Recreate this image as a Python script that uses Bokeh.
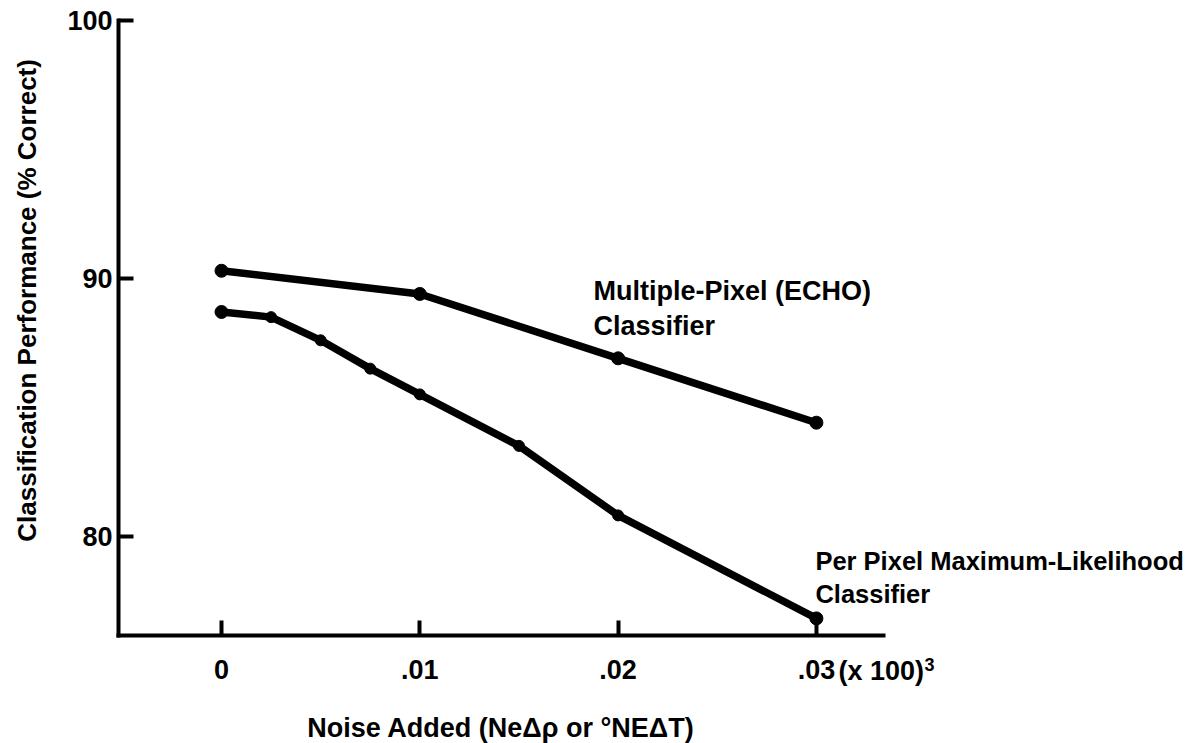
import numpy as np
from bokeh.plotting import figure
from bokeh.models import Label, FixedTicker, Range1d
from bokeh.embed import file_html
from bokeh.resources import INLINE

# ---- data ----
noise_echo = [0.0, 0.01, 0.02, 0.03]
perf_echo = [90.3, 89.4, 86.9, 84.4]

noise_pp = [0.0, 0.0025, 0.005, 0.0075, 0.01, 0.015, 0.02, 0.03]
perf_pp = [88.7, 88.5, 87.6, 86.5, 85.5, 83.5, 80.8, 76.8]

x_ticks = [0.0, 0.01, 0.02, 0.03]
x_tick_labels = ["0", ".01", ".02", ".03"]
y_ticks = [80, 90, 100]
y_tick_labels = ["80", "90", "100"]

x_title = "Noise Added (NeΔρ or °NEΔT)"
y_title = "Classification Performance (% Correct)"
echo_label = ["Multiple-Pixel (ECHO)", "Classifier"]
pp_label = ["Per Pixel Maximum-Likelihood", "Classifier"]

# axis extents (data units)
X_MIN, X_MAX = -0.00519, 0.03338
Y_MIN, Y_MAX = 76.14, 100.02

FONT = "Liberation Sans"
FS = "27px"

p = figure(width=1192, height=743,
           x_range=Range1d(-0.011145, 0.048966), y_range=Range1d(71.942, 100.796),
           output_backend="svg", toolbar_location=None,
           min_border_left=0, min_border_right=0,
           min_border_top=0, min_border_bottom=0)
p.outline_line_color = None
p.grid.visible = False
p.background_fill_color = "white"
p.border_fill_color = "white"

# series
p.line(noise_echo, perf_echo, line_width=7.5, color="black", line_join="round", line_cap="round")
p.scatter(noise_echo, perf_echo, size=13, color="black")
p.line(noise_pp, perf_pp, line_width=7.5, color="black", line_join="round", line_cap="round")
p.scatter(noise_pp, perf_pp, size=11, color="black")
p.scatter([noise_pp[0], noise_pp[-1]], [perf_pp[0], perf_pp[-1]], size=13, color="black")

# axes drawn at fixed data locations inside the frame
for ax in (p.xaxis[0], p.yaxis[0]):
    ax.axis_line_width = 4
    ax.axis_line_color = "black"
    ax.axis_line_cap = "square"
    ax.major_tick_line_width = 4
    ax.major_tick_line_color = "black"
    ax.major_tick_in = 15
    ax.major_tick_out = 0
    ax.minor_tick_line_color = None
    ax.major_label_text_font = FONT
    ax.major_label_text_font_style = "bold"
    ax.major_label_text_font_size = FS
    ax.major_label_text_color = "black"

p.xaxis.fixed_location = Y_MIN
p.xaxis.bounds = (X_MIN, X_MAX)
p.xaxis.ticker = FixedTicker(ticks=x_ticks)
p.xaxis.major_label_overrides = {t: l for t, l in zip(x_ticks, x_tick_labels)}
p.xaxis.major_label_standoff = 25
p.xaxis.axis_label = x_title
p.xaxis.axis_label_text_font = FONT
p.xaxis.axis_label_text_font_style = "bold"
p.xaxis.axis_label_text_font_size = FS
p.xaxis.axis_label_text_color = "black"
p.xaxis.axis_label_standoff = 30

p.yaxis.fixed_location = X_MIN
p.yaxis.bounds = (Y_MIN, Y_MAX)
p.yaxis.ticker = FixedTicker(ticks=y_ticks)
p.yaxis.major_label_overrides = {t: l for t, l in zip(y_ticks, y_tick_labels)}
p.yaxis.major_label_standoff = 6

def lab(x, y, text, size=FS, **kw):
    p.add_layout(Label(x=x, y=y, text=text, text_font=FONT, text_font_style="bold",
                       text_font_size=size, text_color="black", **kw))

# y-axis title (rotated; in the reference it is not centred on the axis)
lab(-0.00983, 89.15, y_title, size="26px", angle=np.pi / 2,
    text_align="center", text_baseline="middle")

# "(x 100)^3" multiplier after the .03 tick label
lab(0.03111, 74.74, "(x 100)", text_align="left", text_baseline="middle")
lab(0.03545, 75.0, "3", size="18px", text_align="left", text_baseline="middle")

# series annotations
lab(0.01876, 89.53, echo_label[0], text_align="left", text_baseline="middle")
lab(0.01876, 88.17, echo_label[1], text_align="left", text_baseline="middle")
lab(0.02995, 79.03, pp_label[0], size="25.5px", text_align="left", text_baseline="middle")
lab(0.02995, 77.73, pp_label[1], size="25.5px", text_align="left", text_baseline="middle")

open("out.html", "w").write(file_html(p, INLINE))
